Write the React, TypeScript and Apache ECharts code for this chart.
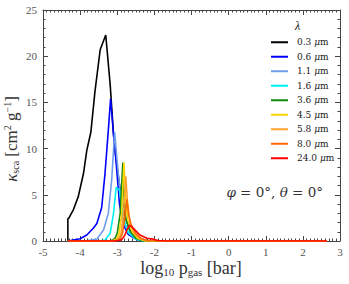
import React, { useEffect, useRef } from "react";
import * as echarts from "echarts";

const wavelengths = ["0.3", "0.6", "1.1", "1.6", "3.6", "4.5", "5.8", "8.0", "24.0"];
const colors = ["#000000", "#0000ff", "#6f9ded", "#00f0f0", "#118a11", "#ffd500", "#ffa033", "#ff6a00", "#ff0000"];

const s03 = [[-4.33,0],[-4.33,2.4],[-4.3,2.5],[-4.18,3.4],[-4.05,4.8],[-3.91,7.3],[-3.82,9.8],[-3.71,11.8],[-3.6,16.2],[-3.46,20.7],[-3.31,22.3],[-3.19,16.9],[-3.1,11.5],[-3.03,8.8],[-2.92,5.5],[-2.79,2.6],[-2.66,1.2],[-2.5,0.4],[-2.3,0.1],[-2.1,0],[2.65,0]];
const s06 = [[-4.33,0],[-4.0,0.25],[-3.82,0.65],[-3.64,1.4],[-3.55,1.9],[-3.42,3.6],[-3.33,7.3],[-3.24,12],[-3.18,15.4],[-3.1,11.5],[-3.03,8.5],[-2.94,4.0],[-2.84,1.8],[-2.7,0.7],[-2.5,0.2],[-2.3,0],[2.65,0]];
const s11 = [[-4.33,0],[-3.8,0.05],[-3.55,0.2],[-3.37,1.2],[-3.24,3.0],[-3.15,6.6],[-3.07,11.8],[-3.0,8.5],[-2.92,5.2],[-2.84,2.3],[-2.7,0.9],[-2.5,0.25],[-2.3,0],[2.65,0]];
const s16 = [[-4.33,0],[-3.5,0],[-3.33,0.1],[-3.19,0.85],[-3.1,3.0],[-3.03,5.8],[-2.94,5.5],[-2.88,4.0],[-2.82,2.3],[-2.7,0.9],[-2.5,0.2],[-2.3,0],[2.65,0]];
const s36 = [[-4.33,0],[-3.2,0],[-3.07,0.2],[-3.0,0.85],[-2.92,3.0],[-2.85,8.5],[-2.82,5.0],[-2.76,2.3],[-2.65,1.0],[-2.5,0.3],[-2.3,0],[2.65,0]];
const s45 = [[-4.33,0],[-3.15,0],[-3.02,0.2],[-2.95,0.8],[-2.88,3.0],[-2.82,8.5],[-2.78,5.0],[-2.72,2.3],[-2.6,1.0],[-2.45,0.3],[-2.25,0],[2.65,0]];
const s58 = [[-4.33,0],[-3.1,0],[-2.97,0.2],[-2.9,0.8],[-2.83,3.0],[-2.77,7.0],[-2.73,4.5],[-2.66,2.0],[-2.55,0.9],[-2.4,0.3],[-2.2,0],[2.65,0]];
const s80 = [[-4.33,0],[-3.05,0],[-2.93,0.2],[-2.86,0.8],[-2.8,2.5],[-2.74,4.5],[-2.7,3.0],[-2.63,1.8],[-2.5,0.8],[-2.35,0.25],[-2.15,0],[2.65,0]];
const s240 = [[-4.33,0],[-3.0,0],[-2.88,0.15],[-2.8,0.6],[-2.74,1.2],[-2.68,1.7],[-2.61,1.55],[-2.5,1.1],[-2.39,0.65],[-2.2,0.3],[-2.03,0.2],[-1.9,0.05],[-1.7,0],[2.65,0]];
const seriesData = [s03, s06, s11, s16, s36, s45, s58, s80, s240];

const SERIF = "Liberation Serif";
const WIDE = "DejaVu Serif";
const frame = "#444";

export default function App() {
  const ref = useRef<HTMLDivElement>(null);
  useEffect(() => {
    const chart = echarts.init(ref.current!, null, { renderer: "svg" });
    const axisCommon = {
      axisLine: { show: true, onZero: false, lineStyle: { color: frame, width: 1 } },
      axisTick: { show: true, inside: true, length: 5, lineStyle: { color: frame } },
      splitLine: { show: false },
    };
    const names = wavelengths.map((w) => w + " μm");
    chart.setOption({
      animation: false,
      grid: { left: 43, right: 9, top: 10, bottom: 43 },
      legend: {
        orient: "vertical",
        left: 266,
        top: 32,
        icon: "rect",
        itemWidth: 17,
        itemHeight: 2,
        itemGap: 4,
        data: names,
        formatter: (n: string) => "{n|" + n.replace(" μm", " ") + "}{u|μ}{n|m}",
        textStyle: {
          fontFamily: WIDE,
          fontSize: 9,
          color: "#222",
          lineHeight: 10.5,
          padding: [0, 0, 0, 4],
          rich: {
            n: { fontFamily: WIDE, fontSize: 9, color: "#222" },
            u: { fontFamily: WIDE, fontSize: 9, fontStyle: "italic", color: "#222" },
          },
        },
      },
      xAxis: [
        {
          type: "value", min: -5, max: 3, interval: 1, position: "bottom",
          ...axisCommon,
          minorTick: { show: true, splitNumber: 10, length: 2.5, lineStyle: { color: frame } },
          axisLabel: { color: "#555", fontFamily: SERIF, fontSize: 11, margin: 5 },
        },
        {
          type: "value", min: -5, max: 3, interval: 1, position: "top",
          ...axisCommon,
          minorTick: { show: true, splitNumber: 10, length: 2.5, lineStyle: { color: frame } },
          axisLabel: { show: false },
        },
      ],
      yAxis: [
        {
          type: "value", min: 0, max: 25, interval: 5, position: "left",
          ...axisCommon,
          minorTick: { show: true, splitNumber: 5, length: 2.5, lineStyle: { color: frame } },
          axisLabel: { color: "#555", fontFamily: SERIF, fontSize: 11, margin: 6 },
        },
        {
          type: "value", min: 0, max: 25, interval: 5, position: "right",
          ...axisCommon,
          minorTick: { show: true, splitNumber: 5, length: 2.5, lineStyle: { color: frame } },
          axisLabel: { show: false },
        },
      ],
      series: seriesData.map((d, i) => ({
        name: names[i],
        type: "line",
        data: d,
        xAxisIndex: 0,
        yAxisIndex: 0,
        showSymbol: false,
        symbol: "none",
        lineStyle: { color: colors[i], width: 1.6 },
        itemStyle: { color: colors[i] },
        z: 2 + i,
      })),
      graphic: [
        {
          type: "text", left: 295, top: 20,
          style: { text: "λ", font: "italic 12px " + SERIF, fill: "#222" },
        },
        {
          type: "text", x: 323, y: 192,
          style: {
            text: "{i|φ}{n| = 0°, }{i|θ}{n| = 0°}",
            align: "right", verticalAlign: "middle",
            rich: {
              i: { fontFamily: WIDE, fontSize: 13.5, fontStyle: "italic", fill: "#333" },
              n: { fontFamily: WIDE, fontSize: 13.5, fill: "#333" },
            },
          },
        },
        {
          type: "text", x: 191, y: 268,
          style: {
            text: "{n|log}{s|10}{n| p}{s|gas}{n| [bar]}",
            align: "center", verticalAlign: "middle",
            rich: {
              n: { fontFamily: SERIF, fontSize: 18, lineHeight: 18, fill: "#333" },
              s: { fontFamily: SERIF, fontSize: 11, lineHeight: 6, verticalAlign: "bottom", fill: "#333" },
            },
          },
        },
        {
          type: "text", x: 11, y: 139, rotation: Math.PI / 2,
          style: {
            text: "{k|κ}{s|sca}{n| [cm}{p|2}{n| g}{p|−1}{n|]}",
            align: "center", verticalAlign: "middle",
            rich: {
              k: { fontFamily: SERIF, fontSize: 17, lineHeight: 18, fontStyle: "italic", fill: "#333" },
              n: { fontFamily: SERIF, fontSize: 17, lineHeight: 18, fill: "#333" },
              s: { fontFamily: SERIF, fontSize: 10, lineHeight: 6, verticalAlign: "bottom", fill: "#333" },
              p: { fontFamily: SERIF, fontSize: 10, lineHeight: 8, verticalAlign: "top", fill: "#333" },
            },
          },
        },
      ],
    });
    return () => chart.dispose();
  }, []);
  return <div ref={ref} style={{ width: 349, height: 284, position: "absolute", left: 0, top: 0, background: "#fff" }} />;
}
